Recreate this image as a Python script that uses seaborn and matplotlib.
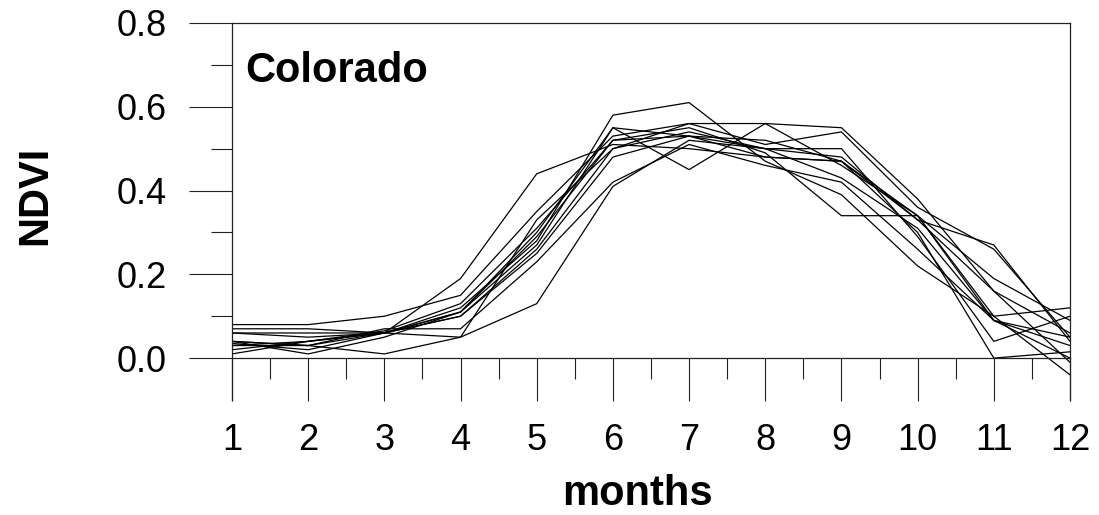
import numpy as np
import pandas as pd
import matplotlib
matplotlib.use("Agg")
import matplotlib.pyplot as plt
import seaborn as sns
from matplotlib.ticker import MultipleLocator

months = list(range(1, 13))

# NDVI curves, one per year
s1 = [0.08, 0.08, 0.10, 0.15, 0.35, 0.53, 0.56, 0.56, 0.55, 0.38, 0.16, 0.06]
s2 = [0.06, 0.05, 0.06, 0.19, 0.44, 0.51, 0.50, 0.48, 0.47, 0.33, 0.27, 0.04]
s3 = [0.04, 0.03, 0.01, 0.05, 0.13, 0.41, 0.52, 0.50, 0.43, 0.31, 0.09, 0.00]
s4 = [0.035, 0.02, 0.06, 0.12, 0.28, 0.58, 0.61, 0.47, 0.39, 0.22, 0.10, -0.04]
s5 = [0.03, 0.04, 0.06, 0.11, 0.30, 0.55, 0.45, 0.56, 0.46, 0.34, 0.19, 0.09]
s6 = [0.07, 0.07, 0.06, 0.10, 0.26, 0.50, 0.56, 0.51, 0.54, 0.36, 0.26, 0.05]
s7 = [0.02, 0.04, 0.06, 0.10, 0.25, 0.48, 0.53, 0.50, 0.50, 0.29, 0.04, 0.10]
s8 = [0.01, 0.04, 0.065, 0.13, 0.31, 0.52, 0.55, 0.49, 0.34, 0.34, 0.10, 0.12]
s9 = [0.04, 0.01, 0.05, 0.11, 0.27, 0.55, 0.53, 0.52, 0.47, 0.30, 0.00, 0.015]
s10 = [0.03, 0.03, 0.07, 0.07, 0.23, 0.42, 0.51, 0.46, 0.42, 0.26, 0.09, 0.03]
s11 = [0.06, 0.06, 0.06, 0.05, 0.33, 0.50, 0.54, 0.50, 0.48, 0.33, 0.16, -0.01]
s12 = [0.04, 0.03, 0.06, 0.11, 0.29, 0.52, 0.53, 0.48, 0.47, 0.34, 0.09, 0.05]
series = [s1, s2, s3, s4, s5, s6, s7, s8, s9, s10, s11, s12]

rows = []
for i, s in enumerate(series):
    for m, v in zip(months, s):
        rows.append({"year": i, "month": m, "ndvi": v})
df = pd.DataFrame(rows)

sns.set_style("white")
plt.rcParams["font.family"] = ["Liberation Sans", "DejaVu Sans"]
plt.rcParams["text.color"] = "black"
plt.rcParams["xtick.color"] = "black"
plt.rcParams["ytick.color"] = "black"

fig = plt.figure(figsize=(10.99, 5.15), dpi=100)
ax = fig.add_axes([232 / 1099, 1 - 400 / 515, 838 / 1099, 377 / 515])

sns.lineplot(data=df, x="month", y="ndvi", units="year", estimator=None,
             color="black", linewidth=0.9, ax=ax, legend=False)

ax.set_xlim(1, 12)
ax.set_ylim(-0.1, 0.8)

for side in ["left", "right", "top", "bottom"]:
    ax.spines[side].set_visible(True)
    ax.spines[side].set_color("#222222")
    ax.spines[side].set_linewidth(0.9)
ax.spines["bottom"].set_position(("data", 0))

ax.set_yticks([0.0, 0.2, 0.4, 0.6, 0.8])
ax.set_yticklabels(["0.0", "0.2", "0.4", "0.6", "0.8"])
ax.yaxis.set_minor_locator(matplotlib.ticker.FixedLocator([0.1, 0.3, 0.5, 0.7]))
ax.set_xticks(months)
ax.xaxis.set_minor_locator(MultipleLocator(0.5))

ax.tick_params(axis="both", which="major", direction="out", length=31,
               width=0.8, color="#222222", labelcolor="black", labelsize=26)
ax.tick_params(axis="both", which="minor", direction="out", length=15,
               width=0.8, color="#222222")
ax.tick_params(axis="y", which="major", pad=16)
ax.tick_params(axis="x", which="major", pad=16)
ax.tick_params(left=True, bottom=True, which="both")

ax.set_xlabel("")
ax.set_ylabel("")
fig.text(637 / 1099, 1 - 494 / 515, "months", fontsize=30, fontweight="bold",
         ha="center", va="center", color="black")
fig.text(35 / 1099, 1 - 195 / 515, "NDVI", fontsize=30, fontweight="bold",
         ha="center", va="center", rotation=90, color="black")

ax.text(0.0155, 0.8435, "Colorado", transform=ax.transAxes, fontsize=30,
        fontweight="bold", ha="left", va="baseline", color="black")

fig.savefig("out.png", dpi=100)
